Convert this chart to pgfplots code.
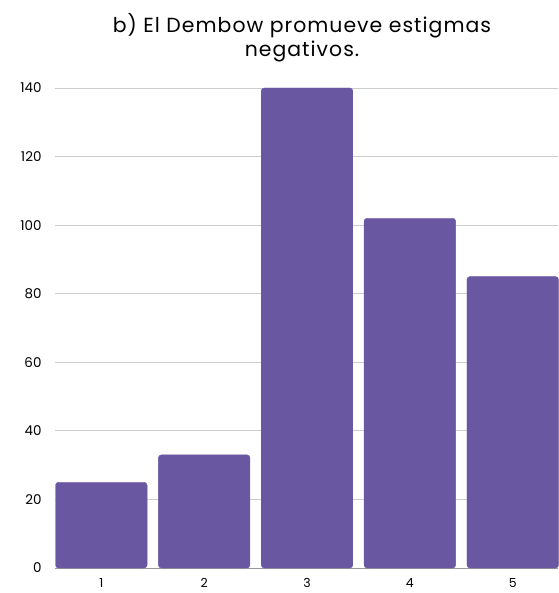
\documentclass[border=0pt]{standalone}
\usepackage{pgfplots}
\pgfplotsset{compat=1.18}
\usepackage{fontspec}
\setmainfont{Poppins}
\usetikzlibrary{calc}
\definecolor{barpurple}{HTML}{6957A1}
\definecolor{gridgray}{HTML}{CCCCCC}
\begin{document}
\begin{tikzpicture}
  \begin{axis}[
      name=ax,
      scale only axis,
      width=503bp,
      height=480bp,
      xmin=0.55, xmax=5.44,
      ymin=0, ymax=140,
      ytick={0,20,...,140},
      xtick={1,2,3,4,5},
      ymajorgrids,
      grid style={gridgray, line width=0.8pt},
      axis x line*=bottom,
      axis y line*=left,
      y axis line style={draw=none},
      x axis line style={gray!80, line width=0.8pt, -},
      major tick length=0pt,
      tick style={draw=none},
      yticklabel style={font=\fontsize{13.5}{15}\selectfont, xshift=-10bp},
      xticklabel style={font=\fontsize{12.5}{14}\selectfont, yshift=-7bp},
      /pgf/number format/assume math mode=true,
      ybar, bar width=0.89, bar shift=0pt,
      clip=false,
    ]
    \addplot[fill=barpurple, draw=barpurple, rounded corners=3bp] coordinates {
      (1,25) (2,33) (3,140) (4,102) (5,85)
    };
  \end{axis}
  \node[font=\fontsize{20.5}{24}\selectfont\addfontfeatures{LetterSpace=5}, anchor=base]
    at ($(ax.north)+(-4.5bp,55bp)$) {b) El Dembow promueve estigmas};
  \node[font=\fontsize{20.5}{24}\selectfont\addfontfeatures{LetterSpace=5}, anchor=base]
    at ($(ax.north)+(-4.5bp,31bp)$) {negativos.};
  \path[use as bounding box] ($(ax.south west)+(-55bp,-25bp)$) rectangle ($(ax.north east)+(0,88bp)$);
\end{tikzpicture}
\end{document}
